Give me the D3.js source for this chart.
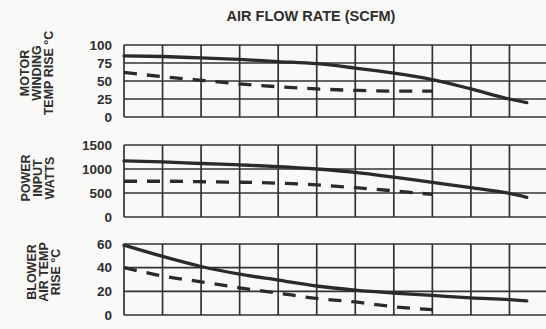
<!DOCTYPE html>
<html>
<head>
<meta charset="utf-8">
<script src="https://cdn.jsdelivr.net/npm/d3@7"></script>
<style>
  body { margin: 0; background: #f9f9f7; }
  text { font-family: "Liberation Sans", Arial, sans-serif; font-weight: bold; fill: #2e2e2e; }
</style>
</head>
<body>
<svg id="chart" width="546" height="329"></svg>
<script>
// airflow positions, in grid columns (no numbers printed on the x axis)
var flowCols = [0, 1, 2, 3, 4, 5, 6, 7, 8, 9, 10, 10.45]
var flowColsDashed = [0, 1, 2, 3, 4, 5, 6, 7, 8]

var motorSolid = [85, 84, 82, 80, 77, 74, 68, 61, 52, 39, 25, 20]
var motorDashed = [62, 56, 51, 46, 42, 39, 37, 36, 36]
var motorTicks = [0, 25, 50, 75, 100]

var powerSolid = [1170, 1150, 1115, 1085, 1050, 1000, 930, 830, 720, 610, 490, 410]
var powerDashed = [745, 745, 735, 725, 705, 670, 610, 545, 470]
var powerTicks = [0, 500, 1000, 1500]

var blowerSolid = [59, 49.5, 41, 34.5, 29.5, 24.5, 21, 18.5, 16.5, 14.5, 13, 12]
var blowerDashed = [40, 33, 28, 23, 18.5, 14, 11, 7, 4.5]
var blowerTicks = [0, 20, 40, 60]

var title = "AIR FLOW RATE (SCFM)"

var panels = [
  { label: ["MOTOR", "WINDING", "TEMP RISE °C"], solid: motorSolid, dashed: motorDashed,
    ticks: motorTicks, top: 45, bottom: 117, labelX: 29, labelY: 73 },
  { label: ["POWER", "INPUT", "WATTS"], solid: powerSolid, dashed: powerDashed,
    ticks: powerTicks, top: 145, bottom: 217, labelX: 30, labelY: 178 },
  { label: ["BLOWER", "AIR TEMP", "RISE °C"], solid: blowerSolid, dashed: blowerDashed,
    ticks: blowerTicks, top: 244, bottom: 315, labelX: 36, labelY: 272 }
]

var svg = d3.select("#chart")

var x = d3.scaleLinear().domain([0, 11]).range([124, 548])
var cols = d3.range(0, 12)

svg.append("text")
  .attr("x", 311).attr("y", 21)
  .attr("text-anchor", "middle")
  .style("font-size", "14.5px")
  .text(title)

panels.forEach(function(p) {
  var y = d3.scaleLinear()
    .domain([0, d3.max(p.ticks)])
    .range([p.bottom, p.top])

  var g = svg.append("g")

  // grid
  g.selectAll(".h").data(p.ticks).enter().append("line")
    .attr("x1", x(0)).attr("x2", x(11))
    .attr("y1", function(d) { return y(d) })
    .attr("y2", function(d) { return y(d) })
    .attr("stroke", "#333").attr("stroke-width", 1.7)
  g.selectAll(".v").data(cols).enter().append("line")
    .attr("x1", function(d) { return x(d) })
    .attr("x2", function(d) { return x(d) })
    .attr("y1", y.range()[0]).attr("y2", y.range()[1])
    .attr("stroke", "#333").attr("stroke-width", 1.7)

  // tick labels
  var axis = d3.axisLeft(y).tickValues(p.ticks).tickSize(0).tickPadding(12)
    .tickFormat(d3.format("d"))
  var ax = g.append("g").attr("transform", "translate(" + x(0) + ",0)").call(axis)
  ax.select(".domain").remove()
  ax.selectAll("text")
    .style("font-size", "13.5px")
    .style("font-family", "'Liberation Sans', Arial, sans-serif")
    .style("font-weight", "bold")
    .attr("fill", "#2e2e2e")

  // curves
  var solidLine = d3.line()
    .x(function(d, i) { return x(flowCols[i]) })
    .y(function(d) { return y(d) })
    .curve(d3.curveMonotoneX)
  var dashLine = d3.line()
    .x(function(d, i) { return x(flowColsDashed[i]) })
    .y(function(d) { return y(d) })
    .curve(d3.curveMonotoneX)

  g.append("path").datum(p.solid)
    .attr("d", solidLine)
    .attr("fill", "none").attr("stroke", "#2a2a2a").attr("stroke-width", 3.3)
    .attr("stroke-linecap", "round")
  g.append("path").datum(p.dashed)
    .attr("d", dashLine)
    .attr("fill", "none").attr("stroke", "#2a2a2a").attr("stroke-width", 3.3)
    .attr("stroke-dasharray", "13,10")

  // rotated y title, three lines
  var lab = g.append("text")
    .attr("transform", "translate(" + p.labelX + "," + p.labelY + ") rotate(-90)")
    .attr("text-anchor", "middle")
    .style("font-size", "12.5px")
  lab.selectAll("tspan").data(p.label).enter().append("tspan")
    .attr("x", 0)
    .attr("dy", function(d, i) { return i == 0 ? 0 : 12 })
    .text(function(d) { return d })
})
</script>
</body>
</html>
